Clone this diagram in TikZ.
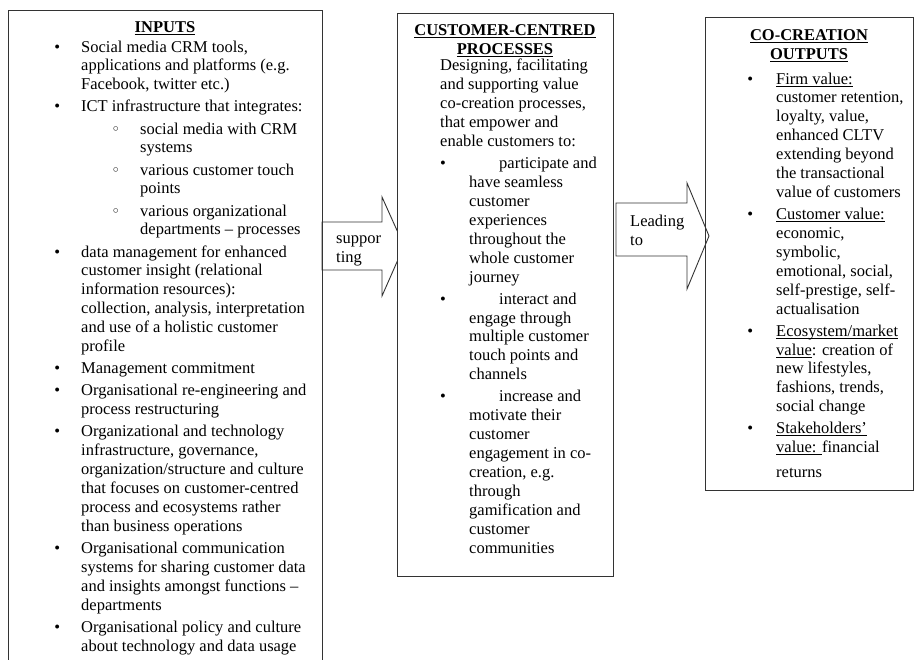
\documentclass[tikz,border=0pt]{standalone}
\usepackage{fontspec}
\setmainfont{Liberation Serif}
\newfontfamily\symf{DejaVu Sans}
\newcommand\bodyfont{\fontsize{16.5}{18.9}\selectfont}
\newcommand\ttlfont{\fontsize{16.5}{18.9}\selectfont\bfseries}
\newcommand\myul[1]{\setbox0\hbox{#1}\rlap{\vrule height -1.6pt depth 2.6pt width \wd0}\box0}
\newcommand\myulb[1]{\setbox0\hbox{#1}\rlap{\vrule height -1.5pt depth 2.9pt width \wd0}\box0}
\newcommand\lb{\llap{•\hspace{21pt}}}
\newcommand\ls{\hspace*{59pt}\llap{{\symf\fontsize{15}{15}\selectfont ◦}\hspace{20pt}}}
\newcommand\lc{\hspace*{59pt}}
\newcommand\rb{\llap{•\hspace{23pt}}}
\newcommand\mb{•\hspace{53.2pt}}
\newcommand\mc{\hspace*{29pt}}
\tikzset{
  boxline/.style={draw=black!80, line width=0.9pt},
  panel/.style={boxline, rectangle, inner sep=0pt, anchor=north west, fill=white},
  blockarrow/.style={boxline, line join=miter},
  txt/.style={inner sep=0pt, font=\bodyfont, align=left, anchor=base west},
  ttl/.style={inner sep=0pt, font=\ttlfont, align=center, anchor=base},
}
\begin{document}
\begin{tikzpicture}[x=1pt,y=-1pt]
\useasboundingbox (0,0) rectangle (916,660);
\clip (0,0) rectangle (916,660);
\fill[white] (0,0) rectangle (916,660);
% panels and arrows
\node[panel, minimum width=314pt, minimum height=680pt] (inbox) at (8,10) {};
\draw[blockarrow] (322,222) -- (382,222) -- (382,197) -- (404,246) -- (382,296) -- (382,270) -- (322,270) -- cycle;
\node[panel, minimum width=216pt, minimum height=563pt] (midbox) at (397,13) {};
\node[panel, minimum width=208pt, minimum height=473pt] (outbox) at (705,17) {};
\draw[blockarrow] (616,203) -- (687,203) -- (687,183) -- (709,236) -- (687,289) -- (687,256) -- (616,256) -- cycle;
% titles (base anchor = last line)
\node[ttl] (tin) at (165,32.5) {\myulb{INPUTS}};
\node[ttl] (tmid) at (505,54.4) {\myulb{CUSTOMER-CENTRED}\\\myulb{PROCESSES}};
\node[ttl] (tout) at (809,59.4) {\myulb{CO-CREATION}\\\myulb{OUTPUTS}};
% arrow labels
\node[txt] (sup) at (336,262.9) {suppor\\ting};
\node[txt] (lead) at (630,245.9) {Leading\\to};
% inputs
\node[txt] (inbody) at (81,651) {%
\lb Social media CRM tools,\\
applications and platforms (e.g.\\
Facebook, twitter etc.)\\[3.2pt]
\lb ICT infrastructure that integrates:\\[3.2pt]
\ls social media with CRM\\
\lc systems\\[3.2pt]
\ls various customer touch\\
\lc points\\[3.2pt]
\ls various organizational\\
\lc departments – processes\\[3.2pt]
\lb data management for enhanced\\
customer insight (relational\\
information resources):\\
collection, analysis, interpretation\\
and use of a holistic customer\\
profile\\[3.2pt]
\lb Management commitment\\[3.2pt]
\lb Organisational re-engineering and\\
process restructuring\\[3.2pt]
\lb Organizational and technology\\
infrastructure, governance,\\
organization/structure and culture\\
that focuses on customer-centred\\
process and ecosystems rather\\
than business operations\\[3.2pt]
\lb Organisational communication\\
systems for sharing customer data\\
and insights amongst functions –\\
departments\\[3.2pt]
\lb Organisational policy and culture\\
about technology and data usage};
% processes
\node[txt] (midbody) at (440,553) {%
Designing, facilitating\\
and supporting value\\
co-creation processes,\\
that empower and\\
enable customers to:\\[3.2pt]
\mb participate and\\
\mc have seamless\\
\mc customer\\
\mc experiences\\
\mc throughout the\\
\mc whole customer\\
\mc journey\\[3.2pt]
\mb interact and\\
\mc engage through\\
\mc multiple customer\\
\mc touch points and\\
\mc channels\\[3.2pt]
\mb increase and\\
\mc motivate their\\
\mc customer\\
\mc engagement in co-\\
\mc creation, e.g.\\
\mc through\\
\mc gamification and\\
\mc customer\\
\mc communities};
% outputs
\node[txt] (outbody) at (776,477.6) {%
\rb \myul{Firm value:}\\
customer retention,\\
loyalty, value,\\
enhanced CLTV\\
extending beyond\\
the transactional\\
value of customers\\[3.2pt]
\rb \myul{Customer value:}\\
economic,\\
symbolic,\\
emotional, social,\\
self-prestige, self-\\
actualisation\\[3.2pt]
\rb \myul{Ecosystem/market}\\
\myul{value}: creation of\\
new lifestyles,\\
fashions, trends,\\
social change\\[3.2pt]
\rb \myul{Stakeholders’}\\
\myul{value: }financial\\[6pt]
returns};
\end{tikzpicture}
\end{document}
